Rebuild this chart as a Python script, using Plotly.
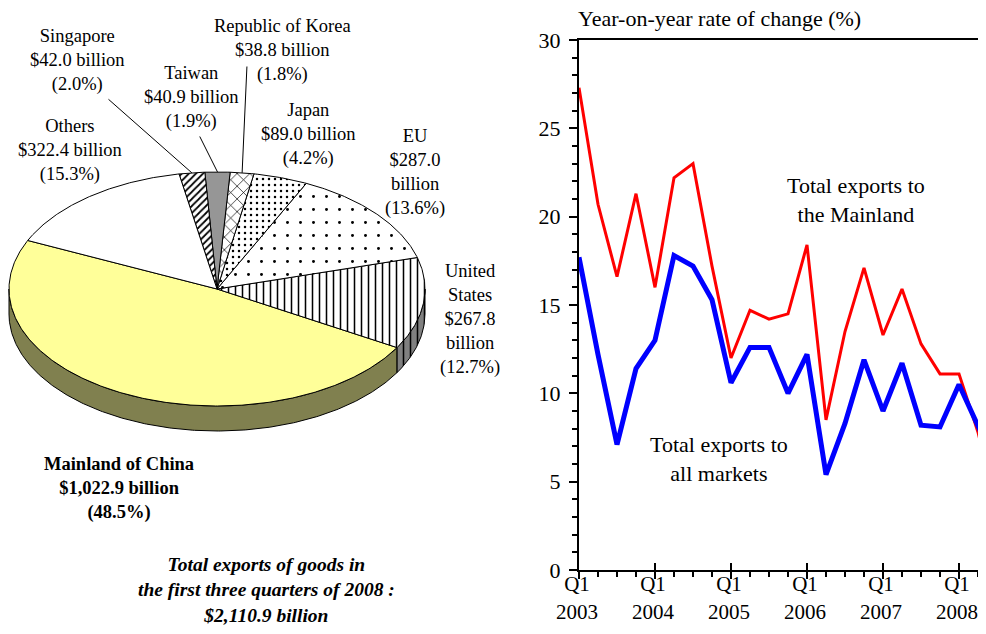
import numpy as np
import plotly.graph_objects as go

# ---------- pie: total exports of goods, first three quarters of 2008 ----------
markets = ["Mainland of China", "United States", "EU", "Japan",
           "Republic of Korea", "Taiwan", "Singapore", "Others"]
export_values = [1022.9, 267.8, 287.0, 89.0, 38.8, 40.9, 42.0, 322.4]  # $ billion
total_exports = 2110.9

# ---------- line: year-on-year rate of change (%) ----------
quarters = ["2003 Q1", "2003 Q2", "2003 Q3", "2003 Q4",
            "2004 Q1", "2004 Q2", "2004 Q3", "2004 Q4",
            "2005 Q1", "2005 Q2", "2005 Q3", "2005 Q4",
            "2006 Q1", "2006 Q2", "2006 Q3", "2006 Q4",
            "2007 Q1", "2007 Q2", "2007 Q3", "2007 Q4",
            "2008 Q1", "2008 Q2", "2008 Q3"]
mainland_growth = [27.3, 20.7, 16.6, 21.3, 16.0, 22.2, 23.0, 17.2,
                   12.0, 14.7, 14.2, 14.5, 18.4, 8.5, 13.5, 17.1,
                   13.3, 15.9, 12.8, 11.1, 11.1, 7.8, 3.4]
all_markets_growth = [17.7, 12.2, 7.1, 11.4, 13.0, 17.8, 17.2, 15.3,
                      10.6, 12.6, 12.6, 10.0, 12.2, 5.4, 8.3, 11.9,
                      9.0, 11.7, 8.2, 8.1, 10.5, 8.1, 5.8]

# ================= styling =================
VIEW_W, VIEW_H = 986, 634
OFF = 8                        # default page body margin
W, H = VIEW_W - 2 * OFF, VIEW_H - 2 * OFF   # fit the page, no scrollbars
SERIF = "Liberation Serif, Times New Roman, serif"

# pie geometry (page pixels) - ellipse with a bit of depth for the 3D look
CX, CY, RX, RY, DEPTH = 217, 289, 208, 117, 25
START_DEG = 155.5

SLICE_STYLE = {
    "Mainland of China": dict(color="#FFFF99", side="#80804F"),
    "United States": dict(color="white", side="#808080",
                          pattern=dict(shape="|", size=7, solidity=0.22)),
    "EU": dict(color="white", side="#808080",
               pattern=dict(shape=".", size=13, solidity=0.04)),
    "Japan": dict(color="white", side="#808080",
                  pattern=dict(shape=".", size=6, solidity=0.14)),
    "Republic of Korea": dict(color="white", side="#808080",
                              pattern=dict(shape="x", size=9, solidity=0.15)),
    "Taiwan": dict(color="#969696", side="#606060"),
    "Singapore": dict(color="white", side="#808080",
                      pattern=dict(shape="/", size=5, solidity=0.35)),
    "Others": dict(color="white", side="#808080"),
}

LABEL_POS = {
    "Mainland of China": (119, 488),
    "United States": (470, 319),
    "EU": (415, 172),
    "Japan": (308, 134),
    "Republic of Korea": (282, 50),
    "Taiwan": (191, 97),
    "Singapore": (77, 60),
    "Others": (70, 150),
}
LABEL_NAME = {"United States": "United<br>States"}
WRAP_BILLION = {"United States", "EU"}
LEADER_TAIL = {"Singapore": (107, 98), "Taiwan": (199, 135), "Republic of Korea": (247, 65)}


def ell(t_deg, dy=0.0):
    t = np.radians(t_deg)
    return CX + RX * np.cos(t), CY - RY * np.sin(t) + dy


def fill_kwargs(style, key="color"):
    kw = dict(fill="toself", mode="lines", line=dict(color="black", width=1),
              hoverinfo="skip", showlegend=False, xaxis="x2", yaxis="y2")
    pat = style.get("pattern")
    kw["fillcolor"] = style[key]
    if pat:
        kw["fillpattern"] = dict(shape=pat["shape"], size=pat["size"], solidity=pat["solidity"],
                                 fgcolor="black", bgcolor=style[key], fillmode="replace")
    return kw


fig = go.Figure()

vals = np.array(export_values)
spans = vals / vals.sum() * 360.0
starts = START_DEG + np.concatenate([[0], np.cumsum(spans)[:-1]])
ends = starts + spans

# side walls (front half of the ellipse only)
for m, a, b in zip(markets, starts, ends):
    for k in (-1, 0, 1):
        lo, hi = max(a, 180 + 360 * k), min(b, 360 + 360 * k)
        if hi - lo <= 0:
            continue
        t = np.linspace(lo, hi, max(3, int(hi - lo) * 2))
        xu, yu = ell(t)
        xl, yl = ell(t[::-1], DEPTH)
        fig.add_trace(go.Scatter(x=np.r_[xu, xl, xu[0]], y=np.r_[yu, yl, yu[0]],
                                 **fill_kwargs(SLICE_STYLE[m], "side")))

# top faces
for m, a, b in zip(markets, starts, ends):
    t = np.linspace(a, b, max(3, int(b - a) * 2))
    xs, ys = ell(t)
    fig.add_trace(go.Scatter(x=np.r_[CX, xs, CX], y=np.r_[CY, ys, CY],
                             **fill_kwargs(SLICE_STYLE[m], "color")))

annotations = []
for m, v, a, b in zip(markets, export_values, starts, ends):
    share = v / total_exports * 100
    name = LABEL_NAME.get(m, m)
    money = f"${v:,.1f}<br>billion" if m in WRAP_BILLION else f"${v:,.1f} billion"
    text = f"{name}<br>{money}<br>({share:.1f}%)"
    if m == "Mainland of China":
        text = f"<b>{text}</b>"
    lx, ly = LABEL_POS[m]
    annotations.append(dict(x=lx, y=ly, xref="x2", yref="y2", text=text, showarrow=False,
                            xanchor="center", yanchor="middle", align="center",
                            font=dict(family=SERIF, size=18.5, color="black")))
    if m in LEADER_TAIL:
        hx, hy = ell((a + b) / 2)
        tx, ty = LEADER_TAIL[m]
        annotations.append(dict(x=float(hx), y=float(hy), xref="x2", yref="y2",
                                ax=tx, ay=ty, axref="x2", ayref="y2", text="",
                                showarrow=True, arrowhead=0, arrowwidth=1,
                                arrowcolor="black", standoff=0))

annotations.append(dict(x=266, y=590, xref="x2", yref="y2",
                        text=f"<b><i>Total exports of goods in<br>the first three quarters of 2008 :"
                             f"<br>${total_exports:,.1f} billion</i></b>",
                        showarrow=False, align="center",
                        font=dict(family=SERIF, size=19.5, color="black")))

# ---------- line chart ----------
xi = list(range(len(quarters)))
fig.add_trace(go.Scatter(x=xi, y=mainland_growth, mode="lines", name="Total exports to the Mainland",
                         line=dict(color="#FF0000", width=3), showlegend=False))
fig.add_trace(go.Scatter(x=xi, y=all_markets_growth, mode="lines", name="Total exports to all markets",
                         line=dict(color="#0000FF", width=5), showlegend=False))
fig.add_trace(go.Scatter(x=[], y=[], xaxis="x3", yaxis="y", showlegend=False))

q1_idx = [i for i, q in enumerate(quarters) if q.endswith("Q1")]
q1_text = [f"Q1<br>{quarters[i][:4]}" for i in q1_idx]

X0, Y_TOP, Y_BOT = 579, 40, 570          # page pixels of the line chart frame
XMAX = (OFF + W - X0) / 19.0             # 19 px per quarter
x_dom = [(X0 - OFF) / W, 1.0]
y_dom = [(H - (Y_BOT - OFF)) / H, (H - (Y_TOP - OFF)) / H]
tickfont = dict(family=SERIF, size=22, color="black")

annotations += [
    dict(x=14.6, y=20.95, xref="x", yref="y", text="Total exports to<br>the Mainland",
         showarrow=False, font=tickfont),
    dict(x=7.37, y=6.31, xref="x", yref="y", text="Total exports to<br>all markets",
         showarrow=False, font=tickfont),
    dict(x=576, y=18, xref="x2", yref="y2", text="Year-on-year rate of change (%)",
         showarrow=False, xanchor="left", yanchor="middle", font=tickfont),
]

fig.update_layout(
    width=W, height=H,
    margin=dict(l=0, r=0, t=0, b=0, autoexpand=False),
    paper_bgcolor="white", plot_bgcolor="rgba(0,0,0,0)",
    showlegend=False,
    xaxis=dict(domain=x_dom, range=[0, XMAX], anchor="y", automargin=False,
               showline=True, linecolor="black", linewidth=2, mirror=True,
               ticks="outside", ticklen=7, tickwidth=2, tickcolor="black",
               tickmode="array", tickvals=q1_idx, ticktext=q1_text,
               tickfont=dict(family=SERIF, size=21, color="black"),
               ticklabelstandoff=-13, ticklabelshift=-2, ticklabeloverflow="allow",
               minor=dict(tick0=0, dtick=1, ticks="outside", ticklen=5, tickwidth=1.5,
                          tickcolor="black", showgrid=False),
               showgrid=False, zeroline=False),
    xaxis3=dict(domain=x_dom, range=[0, XMAX], anchor="y", overlaying="x", automargin=False,
                ticks="inside", ticklen=7, tickwidth=2, tickcolor="black",
                tickmode="array", tickvals=q1_idx, showticklabels=False,
                showline=False, showgrid=False, zeroline=False),
    yaxis=dict(domain=y_dom, range=[0, 30], anchor="x", automargin=False,
               showline=True, linecolor="black", linewidth=2,
               ticks="outside", ticklen=8, tickwidth=2, tickcolor="black",
               tick0=0, dtick=5, tickfont=tickfont, ticklabelstandoff=4,
               minor=dict(tick0=0, dtick=1, ticks="outside", ticklen=5, tickwidth=1.5,
                          tickcolor="black", showgrid=False),
               showgrid=False, zeroline=False),
    # pie axes expressed directly in page pixels
    xaxis2=dict(domain=[0, 1], range=[OFF, OFF + W], anchor="y2", visible=False, automargin=False),
    yaxis2=dict(domain=[0, 1], range=[OFF + H, OFF], anchor="x2", visible=False, automargin=False),
    annotations=annotations,
)

fig.write_html("out.html")
